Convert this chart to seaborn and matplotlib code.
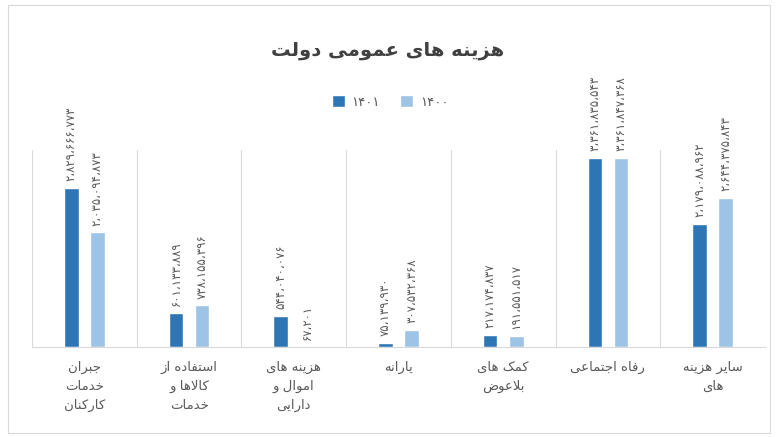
import numpy as np
import pandas as pd
import matplotlib
matplotlib.use('Agg')
import matplotlib.pyplot as plt
import seaborn as sns
from matplotlib.patches import Patch, Rectangle

# data
categories = ['جبران\nخدمات\nکارکنان', 'استفاده از\nکالاها و\nخدمات', 'هزینه های\nاموال و\nدارایی',
              'یارانه', 'کمک های\nبلاعوض', 'رفاه اجتماعی', 'سایر هزینه\nهای']
years = ['۱۴۰۱', '۱۴۰۰']
values_1401 = [2829666773, 601133889, 544040076, 75139930, 217174837, 3361835543, 2179088962]
values_1400 = [2035094873, 738155396, 67201, 307532368, 191551517, 3361847368, 2644375843]
title = 'هزینه های عمومی دولت'

dark = '#2e75b6'
light = '#9dc3e6'
text_gray = '#595959'

# simple arabic shaping: letter -> (first presentation form, number of forms)
FORMS = {'ء': (0xFE80, 1), 'آ': (0xFE81, 2), 'ا': (0xFE8D, 2), 'ب': (0xFE8F, 4), 'ت': (0xFE95, 4),
         'ث': (0xFE99, 4), 'ج': (0xFE9D, 4), 'ح': (0xFEA1, 4), 'خ': (0xFEA5, 4), 'د': (0xFEA9, 2),
         'ذ': (0xFEAB, 2), 'ر': (0xFEAD, 2), 'ز': (0xFEAF, 2), 'س': (0xFEB1, 4), 'ش': (0xFEB5, 4),
         'ص': (0xFEB9, 4), 'ض': (0xFEBD, 4), 'ط': (0xFEC1, 4), 'ظ': (0xFEC5, 4), 'ع': (0xFEC9, 4),
         'غ': (0xFECD, 4), 'ف': (0xFED1, 4), 'ق': (0xFED5, 4), 'ل': (0xFEDD, 4), 'م': (0xFEE1, 4),
         'ن': (0xFEE5, 4), 'ه': (0xFEE9, 4), 'و': (0xFEED, 2), 'پ': (0xFB56, 4), 'چ': (0xFB7A, 4),
         'ژ': (0xFB8A, 2), 'ک': (0xFB8E, 4), 'گ': (0xFB92, 4), 'ی': (0xFBFC, 4), '\uFEFB': (0xFEFB, 2)}


def shape(line):
    line = line.replace('لا', '\uFEFB')
    out = []
    for i, ch in enumerate(line):
        if ch not in FORMS:
            out.append(ch)
            continue
        start, n = FORMS[ch]
        prev = line[i - 1] if i > 0 else ''
        nxt = line[i + 1] if i + 1 < len(line) else ''
        jp = n > 1 and prev in FORMS and FORMS[prev][1] == 4
        jn = n == 4 and nxt in FORMS and FORMS[nxt][1] > 1
        form = {(False, False): 0, (True, False): 1, (False, True): 2, (True, True): 3}[(jp, jn)]
        out.append(chr(start + form))
    return ''.join(out)[::-1]


def rtl(text):
    return '\n'.join(shape(l) for l in text.split('\n'))


def fa_num(v):
    return f'{v:,}'.translate(str.maketrans('0123456789,', '۰۱۲۳۴۵۶۷۸۹،'))


df = pd.DataFrame({
    'cat': categories * 2,
    'year': [years[0]] * len(categories) + [years[1]] * len(categories),
    'value': values_1401 + values_1400,
})

sns.set_style('white')
plt.rcParams['font.family'] = ['DejaVu Sans']

fig = plt.figure(figsize=(7.76, 4.37), dpi=100)
ax = fig.add_axes([32 / 776, 1 - 347 / 437, 733 / 776, 197 / 437])

sns.barplot(data=df, x='cat', y='value', hue='year', order=categories, hue_order=years,
            palette=[dark, light], width=0.5, gap=0.44, saturation=1, legend=False, ax=ax)

for cont, vals in zip(ax.containers, [values_1401, values_1400]):
    ax.bar_label(cont, labels=[fa_num(v) for v in vals], rotation=90, padding=5,
                 fontsize=8.5, color=text_gray)

ax.set_xlim(-0.5, len(categories) - 0.5)
ax.set_ylim(0, 3.5e9)
ax.set_yticks([])
ax.set_xlabel('')
ax.set_ylabel('')
ax.set_xticks(range(len(categories)), labels=[rtl(c) for c in categories])
ax.set_xticks(np.arange(-0.5, len(categories), 1), minor=True)
ax.tick_params(axis='x', which='major', length=0, pad=10, labelsize=9.5, labelcolor=text_gray)
ax.tick_params(axis='x', which='minor', length=4, color='#d9d9d9', width=0.8, direction='out')
for lbl in ax.get_xticklabels():
    lbl.set_linespacing(1.6)
ax.grid(which='minor', axis='x', color='#d9d9d9', lw=0.8)
ax.grid(which='major', visible=False)
for s in ['top', 'right', 'left']:
    ax.spines[s].set_visible(False)
ax.spines['bottom'].set_color('#d9d9d9')
ax.spines['bottom'].set_linewidth(0.8)

fig.text(388 / 776, 1 - 50 / 437, rtl(title), ha='center', va='center', fontsize=14,
         fontweight='bold', color='#404040')

handles = [Patch(facecolor=dark, label=years[0]), Patch(facecolor=light, label=years[1])]
fig.legend(handles=handles, loc='center', bbox_to_anchor=(390 / 776, 1 - 102 / 437), ncol=2,
           frameon=False, fontsize=9.5, handlelength=1.0, handleheight=1.0, columnspacing=1.5,
           handletextpad=0.5, labelcolor=text_gray)

fig.patches.append(Rectangle((8 / 776, 4 / 437), 762 / 776, 428 / 437, transform=fig.transFigure,
                             fill=False, ec='#d9d9d9', lw=0.8))

fig.savefig('out.png', dpi=100)
